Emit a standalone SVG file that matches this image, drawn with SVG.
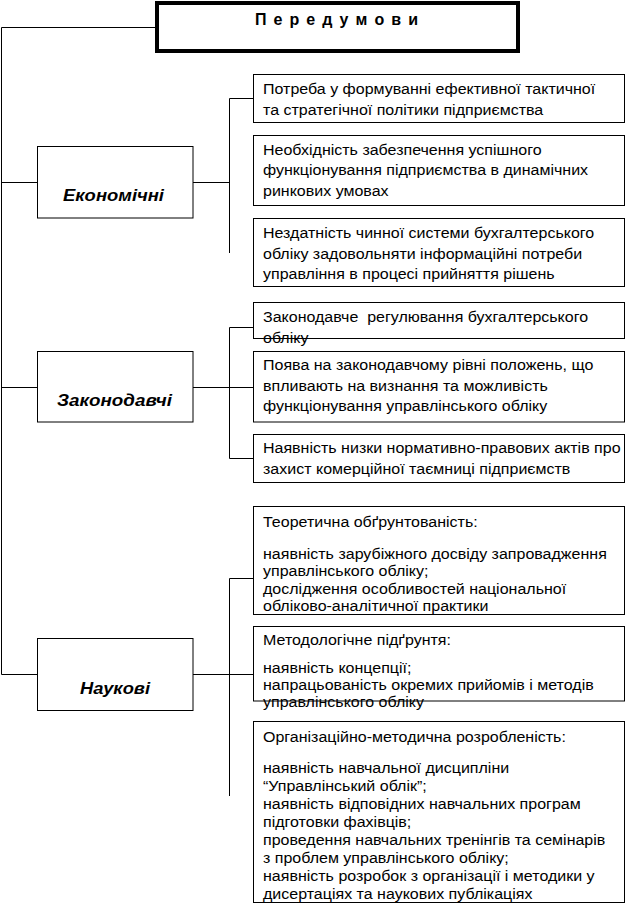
<svg xmlns="http://www.w3.org/2000/svg" width="626" height="907" viewBox="0 0 626 907">
<style>
  .bg { fill: #ffffff; }
  .box { fill: #ffffff; stroke: #000000; stroke-width: 1; }
  .title { fill: #ffffff; stroke: #000000; stroke-width: 4; }
  .cat { fill: #ffffff; stroke: #000000; stroke-width: 1; }
  .ln { fill: none; stroke: #000000; stroke-width: 1; }
  .t { font-family: "Liberation Sans", Arial, sans-serif; font-size: 15px; fill: #000000; white-space: pre; }
  .ct { font-family: "Liberation Sans", Arial, sans-serif; font-size: 16px; font-weight: bold; font-style: italic; fill: #000000; }
  .tt { font-family: "Liberation Sans", Arial, sans-serif; font-size: 16px; font-weight: bold; fill: #000000; }
</style>
<rect class="bg" x="0" y="0" width="626" height="907"/>

<g id="connectors">
  <path class="ln" d="M157 27.5 H1.5 V674.5"/>
  <path class="ln" d="M1.5 182.5 H37"/>
  <path class="ln" d="M1.5 387.5 H37"/>
  <path class="ln" d="M1.5 674.5 H37"/>
  <path class="ln" d="M193 182.5 H229.5"/>
  <path class="ln" d="M229.5 98.5 V253"/>
  <path class="ln" d="M229.5 98.5 H253"/>
  <path class="ln" d="M193 387.5 H253"/>
  <path class="ln" d="M229.5 327.5 V458.5"/>
  <path class="ln" d="M229.5 327.5 H253"/>
  <path class="ln" d="M229.5 458.5 H253"/>
  <path class="ln" d="M193 674.5 H253"/>
  <path class="ln" d="M229.5 578.5 V796"/>
  <path class="ln" d="M229.5 578.5 H253"/>
</g>

<g id="title">
  <rect class="title" x="157" y="3" width="361" height="48"/>
  <text class="tt" x="255" y="25" textLength="163" lengthAdjust="spacing">П е р е д у м о в и</text>
</g>

<g id="economic">
  <rect class="cat" x="37.5" y="146.5" width="155.5" height="71.5"/>
  <text class="ct" x="63" y="201" textLength="101" lengthAdjust="spacingAndGlyphs">Економічні</text>
</g>

<g id="legislative">
  <rect class="cat" x="37.5" y="351.5" width="155.5" height="70.5"/>
  <text class="ct" x="57" y="406" textLength="115" lengthAdjust="spacingAndGlyphs">Законодавчі</text>
</g>

<g id="scientific">
  <rect class="cat" x="37.5" y="638.5" width="155.5" height="72"/>
  <text class="ct" x="80" y="694" textLength="70" lengthAdjust="spacingAndGlyphs">Наукові</text>
</g>

<g id="e1">
  <rect class="box" x="253.5" y="74.5" width="371" height="48"/>
  <g transform="translate(263 0) scale(1.068 1)">
    <text class="t" x="0" y="94">Потреба у формуванні ефективної тактичної</text>
    <text class="t" x="0" y="115">та стратегічної політики підприємства</text>
  </g>
</g>

<g id="e2">
  <rect class="box" x="253.5" y="135.5" width="371" height="70"/>
  <g transform="translate(263 0) scale(1.068 1)">
    <text class="t" x="0" y="155">Необхідність забезпечення успішного</text>
    <text class="t" x="0" y="175">функціонування підприємства в динамічних</text>
    <text class="t" x="0" y="196">ринкових умовах</text>
  </g>
</g>

<g id="e3">
  <rect class="box" x="253.5" y="218.5" width="371" height="68"/>
  <g transform="translate(263 0) scale(1.068 1)">
    <text class="t" x="0" y="238">Нездатність чинної системи бухгалтерського</text>
    <text class="t" x="0" y="259">обліку задовольняти інформаційні потреби</text>
    <text class="t" x="0" y="279">управління в процесі прийняття рішень</text>
  </g>
</g>

<g id="l1">
  <rect class="box" x="253.5" y="302.5" width="371" height="36"/>
  <g transform="translate(263 0) scale(1.068 1)">
    <text class="t" x="0" y="322">Законодавче  регулювання бухгалтерського</text>
    <text class="t" x="0" y="343">обліку</text>
  </g>
</g>

<g id="l2">
  <rect class="box" x="253.5" y="351.5" width="371" height="70.5"/>
  <g transform="translate(263 0) scale(1.068 1)">
    <text class="t" x="0" y="370">Поява на законодавчому рівні положень, що</text>
    <text class="t" x="0" y="391">впливають на визнання та можливість</text>
    <text class="t" x="0" y="411">функціонування управлінського обліку</text>
  </g>
</g>

<g id="l3">
  <rect class="box" x="253.5" y="434.5" width="371" height="48"/>
  <g transform="translate(263 0) scale(1.068 1)">
    <text class="t" x="0" y="453">Наявність низки нормативно-правових актів про</text>
    <text class="t" x="0" y="474">захист комерційної таємниці підприємств</text>
  </g>
</g>

<g id="s1">
  <rect class="box" x="253.5" y="506.5" width="371" height="108"/>
  <g transform="translate(263 0) scale(1.068 1)">
    <text class="t" x="0" y="527">Теоретична обґрунтованість:</text>
    <text class="t" x="0" y="559">наявність зарубіжного досвіду запровадження</text>
    <text class="t" x="0" y="576.5">управлінського обліку;</text>
    <text class="t" x="0" y="594">дослідження особливостей національної</text>
    <text class="t" x="0" y="611.5">обліково-аналітичної практики</text>
  </g>
</g>

<g id="s2">
  <rect class="box" x="253.5" y="626.5" width="371" height="74.5"/>
  <g transform="translate(263 0) scale(1.068 1)">
    <text class="t" x="0" y="645">Методологічне підґрунтя:</text>
    <text class="t" x="0" y="673">наявність концепції;</text>
    <text class="t" x="0" y="690">напрацьованість окремих прийомів і методів</text>
    <text class="t" x="0" y="707">управлінського обліку</text>
  </g>
</g>

<g id="s3">
  <rect class="box" x="253.5" y="721.5" width="371" height="181"/>
  <g transform="translate(263 0) scale(1.068 1)">
    <text class="t" x="0" y="742">Організаційно-методична розробленість:</text>
    <text class="t" x="0" y="773">наявність навчальної дисципліни</text>
    <text class="t" x="0" y="791">“Управлінський облік”;</text>
    <text class="t" x="0" y="809">наявність відповідних навчальних програм</text>
    <text class="t" x="0" y="827">підготовки фахівців;</text>
    <text class="t" x="0" y="845">проведення навчальних тренінгів та семінарів</text>
    <text class="t" x="0" y="863">з проблем управлінського обліку;</text>
    <text class="t" x="0" y="881">наявність розробок з організації і методики у</text>
    <text class="t" x="0" y="899">дисертаціях та наукових публікаціях</text>
  </g>
</g>
</svg>
